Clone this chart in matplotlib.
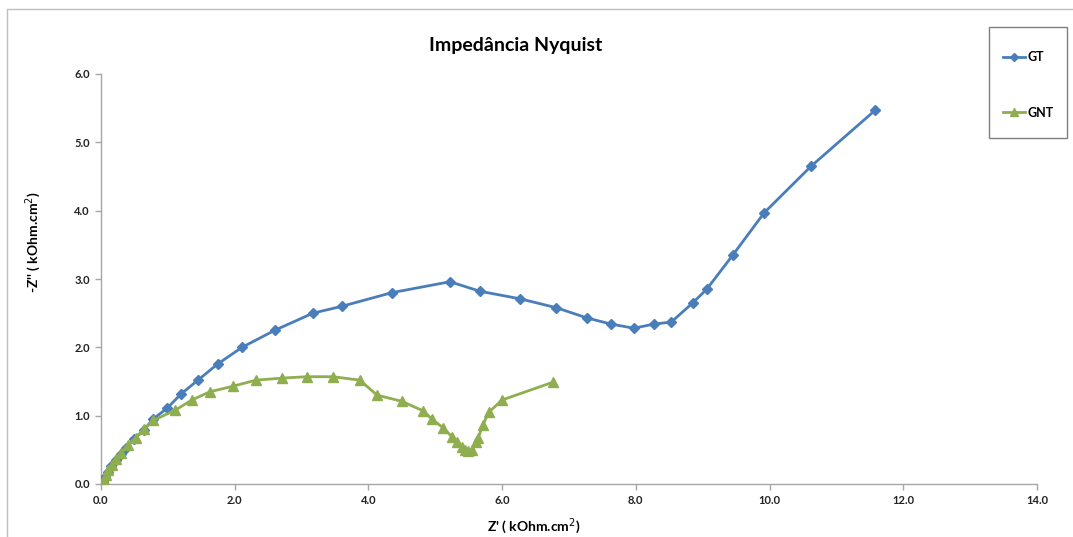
import matplotlib
matplotlib.use("Agg")
import matplotlib.pyplot as plt
from matplotlib.patches import Rectangle

plt.rcParams['font.family'] = ['Lato', 'DejaVu Sans']

# Nyquist data, Z' and -Z'' in kOhm.cm2
gt_re = [0.01, 0.03, 0.06, 0.10, 0.15, 0.22, 0.30, 0.38, 0.50, 0.64, 0.78, 0.99,
         1.20, 1.45, 1.75, 2.11, 2.60, 3.17, 3.60, 4.35, 5.22, 5.67, 6.27, 6.81,
         7.27, 7.63, 7.97, 8.27, 8.53, 8.85, 9.06, 9.45, 9.92, 10.62, 11.58]
gt_im = [0.01, 0.04, 0.10, 0.18, 0.26, 0.35, 0.44, 0.53, 0.66, 0.79, 0.95, 1.11,
         1.32, 1.52, 1.76, 2.00, 2.25, 2.50, 2.60, 2.80, 2.96, 2.82, 2.71, 2.58,
         2.43, 2.34, 2.28, 2.34, 2.37, 2.65, 2.85, 3.35, 3.97, 4.65, 5.47]

gnt_re = [0.02, 0.04, 0.07, 0.11, 0.16, 0.22, 0.30, 0.40, 0.52, 0.64, 0.78, 1.11,
          1.36, 1.63, 1.97, 2.32, 2.71, 3.08, 3.47, 3.87, 4.13, 4.50, 4.82, 4.95,
          5.12, 5.25, 5.32, 5.40, 5.44, 5.49, 5.55, 5.61, 5.64, 5.71, 5.80, 6.00,
          6.76]
gnt_im = [0.01, 0.06, 0.13, 0.20, 0.28, 0.37, 0.46, 0.57, 0.68, 0.80, 0.93, 1.08,
          1.23, 1.35, 1.43, 1.52, 1.55, 1.57, 1.57, 1.52, 1.30, 1.21, 1.07, 0.95,
          0.82, 0.69, 0.61, 0.54, 0.50, 0.48, 0.50, 0.61, 0.67, 0.86, 1.05, 1.23,
          1.49]

x_ticks = [0, 2, 4, 6, 8, 10, 12, 14]
y_ticks = [0, 1, 2, 3, 4, 5, 6]

W, H = 1073, 537
fig = plt.figure(figsize=(W / 100, H / 100), dpi=100)
ax = fig.add_axes([101 / W, 1 - 484 / H, (1037 - 101) / W, (484 - 74) / H])

blue = '#4A7EBB'
green = '#8FAE4F'

ax.plot(gt_re, gt_im, color=blue, lw=2, marker='D', ms=5, label='GT', zorder=3)
ax.plot(gnt_re, gnt_im, color=green, lw=2, marker='^', ms=6.5, label='GNT', zorder=3)

ax.set_xlim(0, 14)
ax.set_ylim(0, 6)
ax.set_xticks(x_ticks)
ax.set_yticks(y_ticks)
ax.set_xticklabels([f'{v:.1f}' for v in x_ticks], fontsize=8, fontweight='bold', color='#222222')
ax.set_yticklabels([f'{v:.1f}' for v in y_ticks], fontsize=8, fontweight='bold', color='#222222')
for side in ('top', 'right'):
    ax.spines[side].set_visible(False)
for side in ('left', 'bottom'):
    ax.spines[side].set_color('#A6A6A6')
    ax.spines[side].set_linewidth(1)
ax.tick_params(axis='both', direction='out', length=4, color='#A6A6A6', width=1, pad=4)

ax.set_xlabel("Z' ( kOhm.cm$^2$)", fontsize=10, fontweight='bold')
ax.xaxis.set_label_coords((534 - 101) / 936, -0.078)
ax.set_ylabel("-Z'' ( kOhm.cm$^2$)", fontsize=10, fontweight='bold', va='center')
ax.yaxis.set_label_coords((33 - 101) / 936, 0.59)

fig.text(516 / W, 1 - 46 / H, 'Impedância Nyquist', ha='center', va='center',
         fontsize=14, fontweight='bold')

# legend entries, boxed separately
leg = fig.legend(loc='center left', bbox_to_anchor=(1003 / W, 1 - 85 / H),
                 frameon=False, prop={'size': 9, 'weight': 'bold'},
                 labelspacing=3.45, handlelength=1.75, handletextpad=0.2,
                 borderpad=0, borderaxespad=0, markerscale=0.9)
fig.patches.append(Rectangle((989 / W, 1 - 138 / H), (1067 - 989) / W, (138 - 27) / H,
                             transform=fig.transFigure, fill=False,
                             edgecolor='#7F7F7F', lw=1))

# outer chart border
fig.patches.append(Rectangle((7 / W, -0.1), 1.2, 1 - 9 / H + 0.1,
                             transform=fig.transFigure, fill=False,
                             edgecolor='#BFBFBF', lw=1))

fig.savefig('out.png', dpi=100)
